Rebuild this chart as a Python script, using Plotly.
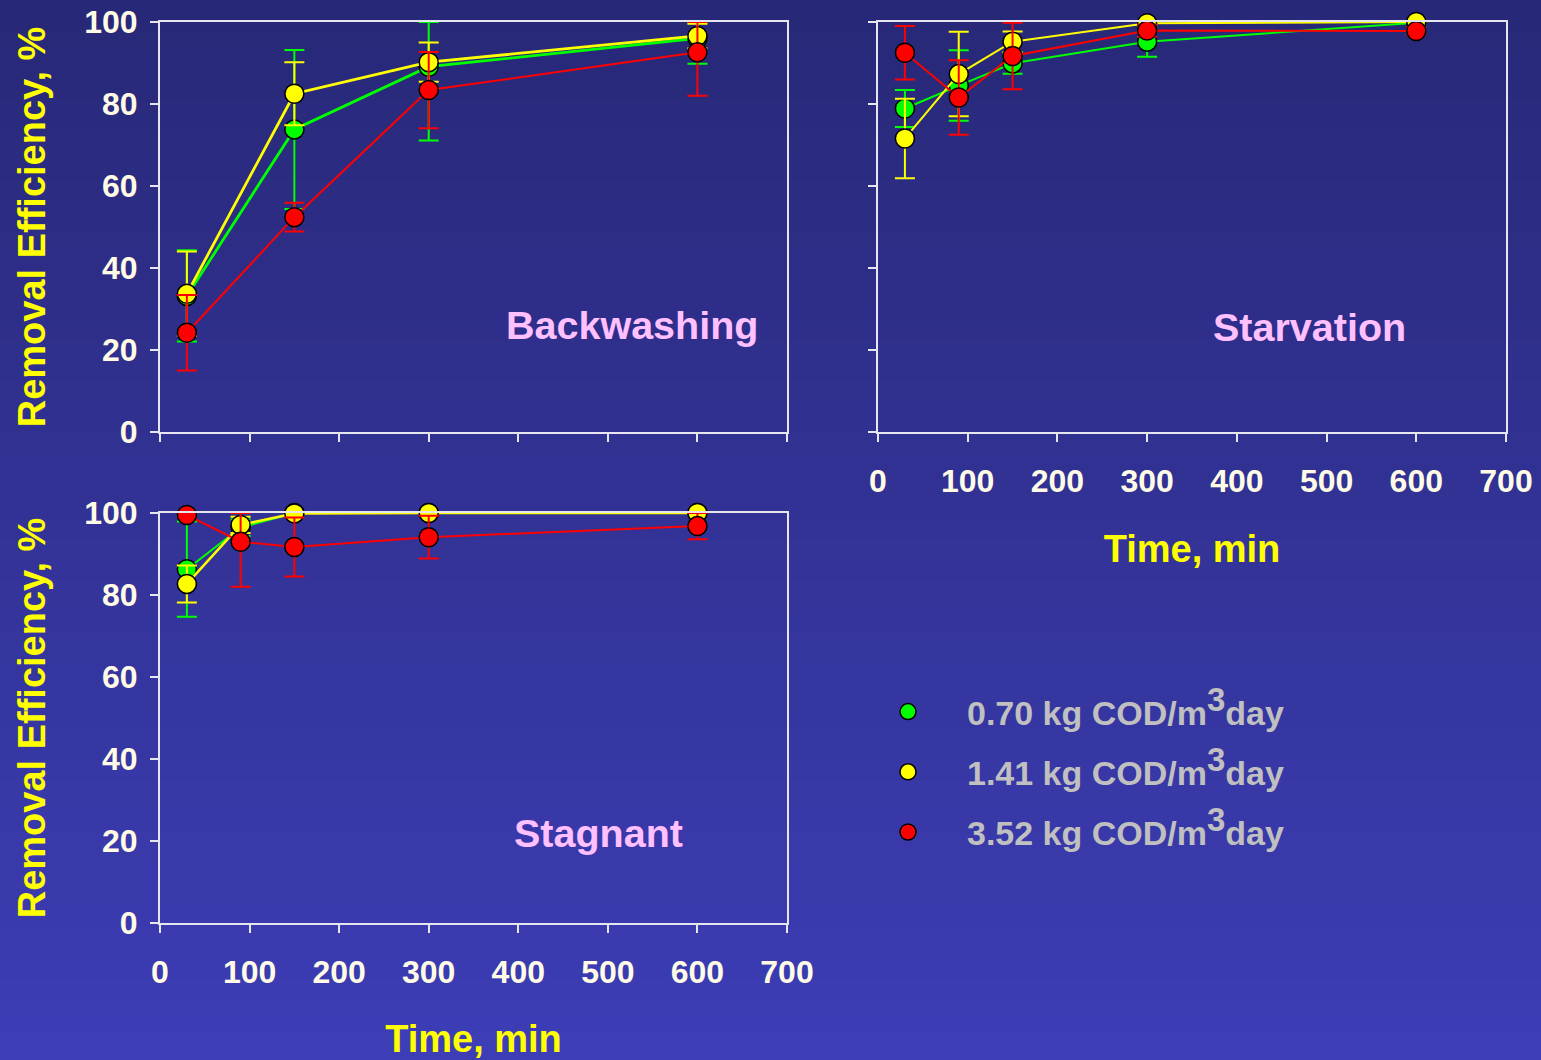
import plotly.graph_objects as go

# ---- data -------------------------------------------------------------
sup3 = '<sup><span style="font-size:33px">3</span></sup>'
loads = [f"0.70 kg COD/m{sup3}day", f"1.41 kg COD/m{sup3}day", f"3.52 kg COD/m{sup3}day"]
colors = ["#00ff00", "#ffff00", "#ff0000"]

# Backwashing
t_back = [30, 150, 300, 600]
back_green = [33.2, 73.8, 89.1, 96.0]
back_green_up = [11.1, 19.4, 10.9, 4.0]
back_green_dn = [11.1, 19.4, 18.0, 6.2]
back_yellow = [33.7, 82.5, 90.2, 96.6]
back_yellow_up = [10.3, 7.7, 4.8, 3.0]
back_yellow_dn = [10.3, 7.7, 4.8, 3.0]
back_red = [24.2, 52.4, 83.4, 92.6]
back_red_up = [9.2, 3.5, 9.3, 7.4]
back_red_dn = [9.2, 3.5, 9.3, 10.6]

# Starvation
t_starv = [30, 90, 150, 300, 600]
starv_green = [78.9, 84.5, 89.9, 95.2, 99.8]
starv_green_err = [4.5, 8.6, 2.5, 3.7, 0.2]
starv_yellow = [71.6, 87.3, 95.2, 99.7, 100.0]
starv_yellow_err = [9.7, 10.3, 2.5, 0.3, 0.0]
starv_red = [92.5, 81.6, 91.7, 97.9, 97.8]
starv_red_err = [6.5, 9.1, 8.1, 1.5, 1.0]

# Stagnant
t_stag = [30, 90, 150, 300, 600]
stag_green = [86.3, 96.4, 100.0, 100.0, 100.0]
stag_green_up = [11.6, 2.0, 0.0, 0.0, 0.0]
stag_green_dn = [11.6, 2.0, 0.0, 0.0, 0.0]
stag_yellow = [82.7, 97.1, 99.9, 100.0, 100.0]
stag_yellow_err = [4.5, 2.0, 0.0, 0.0, 0.0]
stag_red = [99.5, 93.0, 91.7, 94.1, 96.8]
stag_red_up = [0.5, 7.0, 7.2, 5.2, 3.2]
stag_red_dn = [0.5, 11.0, 7.2, 5.2, 3.2]

panel_names = ["Backwashing", "Starvation", "Stagnant"]
x_ticks = [0, 100, 200, 300, 400, 500, 600, 700]
y_ticks = [0, 20, 40, 60, 80, 100]

FONT = "Liberation Sans, Arial, sans-serif"
W, H = 1541, 1060

fig = go.Figure()


def add_series(t, y, up, dn, color, xa, ya, lw):
    fig.add_trace(go.Scatter(
        x=t, y=y, mode="lines+markers", xaxis=xa, yaxis=ya,
        line=dict(color=color, width=lw),
        marker=dict(color=color, size=19, line=dict(color="black", width=1.5)),
        error_y=dict(type="data", symmetric=False, array=up, arrayminus=dn,
                     color=color, thickness=2, width=10),
        cliponaxis=False, showlegend=False, hoverinfo="x+y",
    ))


# panel 1: backwashing
add_series(t_back, back_green, back_green_up, back_green_dn, colors[0], "x", "y", 2.8)
add_series(t_back, back_yellow, back_yellow_up, back_yellow_dn, colors[1], "x", "y", 2.8)
add_series(t_back, back_red, back_red_up, back_red_dn, colors[2], "x", "y", 2)

# panel 2: starvation
add_series(t_starv, starv_green, starv_green_err, starv_green_err, colors[0], "x2", "y2", 2)
add_series(t_starv, starv_yellow, starv_yellow_err, starv_yellow_err, colors[1], "x2", "y2", 2)
add_series(t_starv, starv_red, starv_red_err, starv_red_err, colors[2], "x2", "y2", 2)

# panel 3: stagnant
add_series(t_stag, stag_green, stag_green_up, stag_green_dn, colors[0], "x3", "y3", 2)
add_series(t_stag, stag_yellow, stag_yellow_err, stag_yellow_err, colors[1], "x3", "y3", 2.5)
add_series(t_stag, stag_red, stag_red_up, stag_red_dn, colors[2], "x3", "y3", 2)

# legend entries (markers only)
for name, c in zip(loads, colors):
    fig.add_trace(go.Scatter(
        x=[None], y=[None], mode="markers", name=name, legendgroup=name,
        marker=dict(color=c, size=16, line=dict(color="black", width=1.5)),
        xaxis="x", yaxis="y", showlegend=True,
    ))


def px_x(p):
    return p / W


def px_y(p):
    return 1 - p / H


tick_font = dict(family=FONT, size=32, color="#fffbe6", weight="bold")
title_font = dict(family=FONT, size=38, color="#ffff00", weight="bold")

axis_common = dict(
    showline=True, linecolor="#e6e6f0", linewidth=2, mirror=True,
    ticks="outside", ticklen=8, tickwidth=2, tickcolor="#e6e6f0",
    showgrid=False, zeroline=False, tickfont=tick_font, automargin=False,
)

dom_x_left = [px_x(160), px_x(787)]
dom_x_right = [px_x(878), px_x(1506)]
dom_y_top = [px_y(432), px_y(22)]
dom_y_bot = [px_y(923), px_y(513)]

xa = dict(range=[0, 700], tickvals=x_ticks, **axis_common)
ya = dict(range=[0, 100], tickvals=y_ticks, **axis_common)

fig.update_layout(
    xaxis=dict(domain=dom_x_left, anchor="y", showticklabels=False, **xa),
    yaxis=dict(domain=dom_y_top, anchor="x", ticklabelstandoff=6,
               title=dict(text="Removal Efficiency, %", font=title_font, standoff=27), **ya),
    xaxis2=dict(domain=dom_x_right, anchor="y2", ticklabelstandoff=12,
                title=dict(text="Time, min", font=title_font, standoff=37), **xa),
    yaxis2=dict(domain=dom_y_top, anchor="x2", showticklabels=False, **ya),
    xaxis3=dict(domain=dom_x_left, anchor="y3", ticklabelstandoff=12,
                title=dict(text="Time, min", font=title_font, standoff=37), **xa),
    yaxis3=dict(domain=dom_y_bot, anchor="x3", ticklabelstandoff=6,
                title=dict(text="Removal Efficiency, %", font=title_font, standoff=27), **ya),
)

# panel labels
label_font = dict(family=FONT, size=39.5, color="#ffc0ff", weight="bold")
for name, xr, yr, xv, yv in [
    (panel_names[0], "x", "y", 527, 26.1),
    (panel_names[1], "x2", "y2", 481, 25.6),
    (panel_names[2], "x3", "y3", 489, 22.0),
]:
    fig.add_annotation(text=name, x=xv, y=yv, xref=xr, yref=yr,
                       showarrow=False, font=label_font,
                       xanchor="center", yanchor="middle")

# vertical background gradient built from thin bands
top_rgb = (40, 40, 120)
bot_rgb = (61, 61, 182)
n_bands = 106
for i in range(n_bands):
    f = i / (n_bands - 1)
    r, g, b = (round(a + (c - a) * f) for a, c in zip(top_rgb, bot_rgb))
    fig.add_shape(type="rect", xref="paper", yref="paper",
                  x0=0, x1=1, y0=1 - (i + 1) / n_bands - 0.001, y1=1 - i / n_bands,
                  fillcolor=f"rgb({r},{g},{b})", line=dict(width=0), layer="below")

fig.update_layout(
    width=W, height=H,
    margin=dict(l=0, r=0, t=0, b=0, autoexpand=False),
    paper_bgcolor="rgb(50,50,150)",
    plot_bgcolor="rgba(0,0,0,0)",
    font=dict(family=FONT),
    showlegend=True,
    legend=dict(
        x=px_x(849), y=px_y(683), xanchor="left", yanchor="top",
        bgcolor="rgba(0,0,0,0)", borderwidth=0,
        font=dict(family=FONT, size=34, color="#c0c0c0", weight="bold"),
        itemwidth=108, tracegroupgap=13, itemsizing="trace",
    ),
)

fig.write_html("out.html")
